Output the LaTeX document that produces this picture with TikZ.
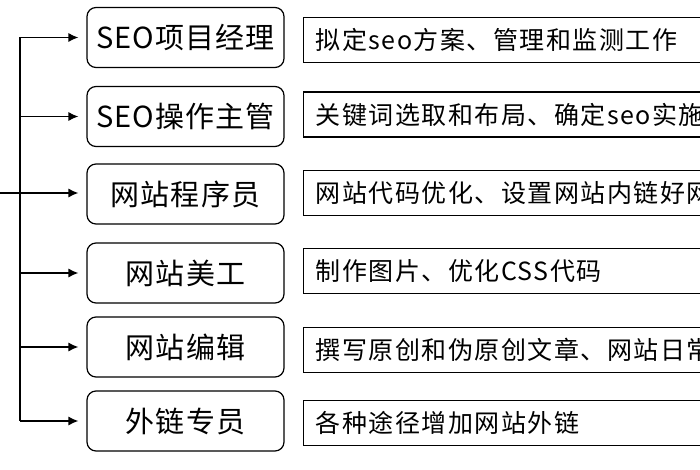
\documentclass[tikz,border=0pt]{standalone}
\usepackage{fontspec}
\newfontfamily\cjkrole{Noto Sans CJK SC}[LetterSpace=4]
\newfontfamily\cjkduty{Noto Sans CJK SC}[LetterSpace=6]
\usetikzlibrary{arrows.meta}
\begin{document}
\begin{tikzpicture}[x=1pt,y=-1pt,
  role/.style={draw, line width=1.2pt, rounded corners=9pt, minimum width=197pt,
    minimum height=60pt, inner sep=0pt, font=\cjkrole\fontsize{29}{31}\selectfont},
  duty/.style={draw, line width=1.2pt, anchor=west, minimum width=420pt,
    minimum height=45pt, inner xsep=12pt, inner ysep=0pt,
    font=\cjkduty\fontsize{25}{27}\selectfont},
  link/.style={line width=1.2pt},
  arr/.style={line width=1.2pt, -{Latex[length=10pt,width=9pt]}}]
\useasboundingbox (0,0) rectangle (700,470);
\clip (0,0) rectangle (700,470);
\fill[white] (0,0) rectangle (700,470);

\node[role] (L1) at (185.5,37.5) {SEO项目经理};
\node[role] (L2) at (185.5,116.5) {SEO操作主管};
\node[role] (L3) at (185.5,194) {网站程序员};
\node[role] (L4) at (185.5,273) {网站美工};
\node[role] (L5) at (185.5,347) {网站编辑};
\node[role] (L6) at (185.5,421) {外链专员};

\node[duty] (R1) at (303,40) {\makebox[396pt][l]{拟定seo方案、管理和监测工作}};
\node[duty] (R2) at (303,114.5) {\makebox[396pt][l]{关键词选取和布局、确定seo实施}};
\node[duty] (R3) at (303,193) {\makebox[396pt][l]{网站代码优化、设置网站内链好网}};
\node[duty] (R4) at (303,271) {\makebox[396pt][l]{制作图片、优化CSS代码}};
\node[duty] (R5) at (303,350) {\makebox[396pt][l]{撰写原创和伪原创文章、网站日常}};
\node[duty] (R6) at (303,423) {\makebox[396pt][l]{各种途径增加网站外链}};

\coordinate (in) at (0,193);
\coordinate (b1) at (20,37.5);
\coordinate (b2) at (20,116.5);
\coordinate (b3) at (20,193);
\coordinate (b4) at (20,273);
\coordinate (b5) at (20,347);
\coordinate (b6) at (20,421);

\draw[link] (b1) -- (b6);
\draw[link] (in) -- (b3);
\foreach \i in {1,...,6} {
  \draw[arr] (b\i) -- ([xshift=-8pt]L\i.west |- b\i);
}
\end{tikzpicture}
\end{document}
